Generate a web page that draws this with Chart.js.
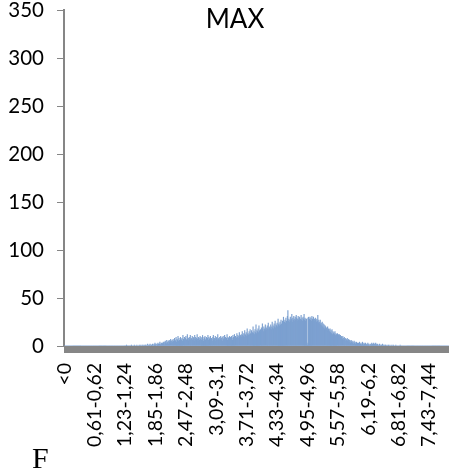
<!DOCTYPE html>
<html>
<head>
<meta charset="utf-8">
<script src="https://cdn.jsdelivr.net/npm/chart.js@4/dist/chart.umd.min.js"></script>
<style>
  html, body { margin: 0; padding: 0; background: #ffffff; }
  canvas { display: block; }
</style>
</head>
<body>
<canvas id="hist" width="449" height="472"></canvas>
<script>
// Histogram of MAX values, bins of 0,01 (first bin collects values below 0)
const chartTitle = 'MAX';
const panelLetter = 'F';
const binWidth = 0.01;
const labelEvery = 62;

// counts per bin, bins 0..199  ("<0", 0-0,01 ... 1,98-1,99)
const countsA = [
  0,0,0,0,0,0,0,0,0,0,0,0,0,0,0,0,0,0,0,0,
  0,0,0,0,0,0,0,0,0,0,0,0,0,0,0,0,0,0,0,0,
  0,0,0,0,0,0,0,0,0,0,0,0,0,0,0,0,0,0,0,0,
  0,0,0,0,0,0,0,0,0,0,0,0,0,0,0,0,0,0,0,0,
  0,0,0,0,0,0,0,0,0,0,0,0,0,0,0,0,0,0,0,0,
  0,0,0,0,0,0,0,0,0,0,0,0,0,0,0,0,0,0,0,0,
  0,0,0,0,0,0,0,1,0,0,0,0,0,0,0,0,0,1,0,0,
  0,0,0,1,0,0,0,0,1,0,0,0,0,1,0,0,1,0,0,1,
  0,1,0,0,1,0,1,1,0,0,2,0,1,0,1,2,0,1,1,0,
  2,1,0,2,1,3,1,2,0,2,1,3,2,1,2,4,1,2,3,2
];
// bins 200..399
const countsB = [
  3,2,4,3,1,4,5,3,2,6,3,4,5,2,6,4,5,7,3,5,
  6,4,7,5,3,8,6,5,9,4,7,6,10,5,8,6,4,9,7,6,
  8,5,11,7,6,9,5,8,10,6,7,12,6,8,5,9,7,11,6,8,
  7,10,6,9,8,5,11,7,9,6,8,12,7,5,9,8,6,10,7,9,
  6,8,11,7,5,9,8,10,6,7,9,5,8,11,6,9,7,8,10,6,
  8,7,5,9,11,6,8,7,10,5,8,9,6,12,7,8,6,9,7,10,
  6,8,9,5,10,7,8,11,6,9,7,8,12,6,9,8,7,10,8,9,
  7,10,8,6,11,9,8,12,7,10,9,8,13,9,11,8,10,14,9,11,
  10,12,9,15,11,10,13,9,16,12,11,14,10,18,12,13,11,15,12,17,
  13,12,16,11,14,20,13,15,12,17,14,22,13,16,15,18,14,21,16,15
];
// bins 400..599
const countsC = [
  17,15,19,16,23,17,15,20,18,16,22,17,19,16,21,18,24,17,20,19,
  18,22,20,17,25,19,21,18,23,20,26,19,22,21,24,20,28,22,23,21,
  25,22,27,23,21,26,24,30,23,25,27,24,29,26,25,31,37,26,28,25,
  27,30,26,28,33,25,29,27,31,26,28,30,27,32,29,26,28,31,27,29,
  30,26,28,32,27,29,26,30,28,33,27,29,26,28,28,3,1,29,30,26,
  28,30,27,29,26,31,28,27,30,25,28,26,29,27,25,28,26,32,24,27,
  25,23,27,22,24,21,25,20,23,19,22,18,21,20,17,19,16,20,15,18,
  17,15,18,14,16,13,17,12,15,13,14,12,15,11,13,12,10,13,11,12,
  10,12,9,11,8,10,9,7,10,8,6,9,7,8,5,7,6,8,5,6,
  7,4,6,5,3,6,4,5,3,4,2,5,3,4,2,3,4,2,3,2
];
// bins 600..784
const countsD = [
  3,2,4,1,2,3,1,2,4,2,1,3,2,1,3,2,1,2,1,3,
  1,2,1,0,2,1,1,3,2,1,2,3,1,2,1,3,2,1,1,2,
  1,0,1,2,1,0,1,1,0,2,1,0,1,0,1,1,0,0,1,0,
  0,1,0,0,1,0,0,0,1,0,0,1,0,0,0,0,1,0,0,0,
  0,0,0,0,0,1,0,0,0,0,0,0,0,0,0,0,0,0,0,0,
  0,0,0,0,0,0,0,0,0,0,0,0,0,0,0,0,0,0,0,0,
  0,0,0,0,0,0,0,0,0,0,0,0,0,0,0,0,0,0,0,0,
  0,0,0,0,0,0,0,0,0,0,0,0,0,0,0,0,0,0,0,0,
  0,0,0,0,0,0,0,0,0,0,0,0,0,0,0,0,0,0,0,0,
  0,0,0,0,0
];
const yTicks = [0, 50, 100, 150, 200, 250, 300, 350];

const counts = countsA.concat(countsB, countsC, countsD);

// bin category names: "<0", "0-0,01", "0,01-0,02", ...
function fmt(v) {
  return String(parseFloat(v.toFixed(2))).replace('.', ',');
}
const categories = counts.map((_, i) =>
  i === 0 ? '<0' : fmt((i - 1) * binWidth) + '-' + fmt(i * binWidth));

const AXIS_GREY = '#868686';
const BAR_BLUE = 'rgb(124,160,208)';
const FONT = 'Lato, "Open Sans", sans-serif';

// thick grey baseline under the bars plus the title and panel letter
const decorations = {
  id: 'decorations',
  afterDatasetsDraw(chart) {
    const { ctx, chartArea } = chart;
    const y0 = chart.scales.y.getPixelForValue(0);
    ctx.save();
    ctx.fillStyle = AXIS_GREY;
    ctx.fillRect(chartArea.left, y0, chartArea.right - chartArea.left, 7);
    ctx.restore();
  },
  afterDraw(chart) {
    const { ctx } = chart;
    ctx.save();
    ctx.fillStyle = '#000';
    ctx.font = '26px ' + FONT;
    ctx.textAlign = 'center';
    ctx.textBaseline = 'middle';
    ctx.fillText(chartTitle, 235, 20);
    ctx.font = '30px "Liberation Serif", "DejaVu Serif", serif';
    ctx.textAlign = 'left';
    ctx.textBaseline = 'alphabetic';
    ctx.fillText(panelLetter, 32, 468);
    ctx.restore();
  }
};

new Chart(document.getElementById('hist'), {
  type: 'bar',
  data: {
    labels: categories,
    datasets: [{
      data: counts,
      backgroundColor: BAR_BLUE,
      borderWidth: 0,
      barPercentage: 1,
      categoryPercentage: 1
    }]
  },
  options: {
    responsive: false,
    animation: false,
    layout: { padding: { top: 10, right: 0, left: 0, bottom: 0 } },
    plugins: { legend: { display: false }, tooltip: { enabled: false }, title: { display: false } },
    scales: {
      x: {
        grid: { display: false, drawTicks: false },
        border: { display: false },
        ticks: {
          autoSkip: false,
          minRotation: 90,
          maxRotation: 90,
          padding: 17,
          color: '#000',
          font: { family: FONT, size: 19.5 }
        },
        afterBuildTicks(scale) {
          scale.ticks = scale.ticks.filter(t => t.value % labelEvery === 0);
        },
        afterFit(scale) {
          scale.height = 126;
          scale.paddingLeft = 0;
          scale.paddingRight = 0;
        }
      },
      y: {
        min: 0,
        max: 350,
        grid: { drawOnChartArea: false, drawTicks: true, tickLength: 7, color: AXIS_GREY, lineWidth: 1 },
        border: { display: true, color: AXIS_GREY, width: 2 },
        ticks: {
          stepSize: 50,
          padding: 13,
          color: '#000',
          font: { family: FONT, size: 20.5 }
        },
        afterBuildTicks(scale) {
          scale.ticks = yTicks.map(v => ({ value: v }));
        },
        afterFit(scale) {
          scale.width = 64;
          scale.paddingTop = 0;
          scale.paddingBottom = 0;
        }
      }
    }
  },
  plugins: [decorations]
});
</script>
</body>
</html>
